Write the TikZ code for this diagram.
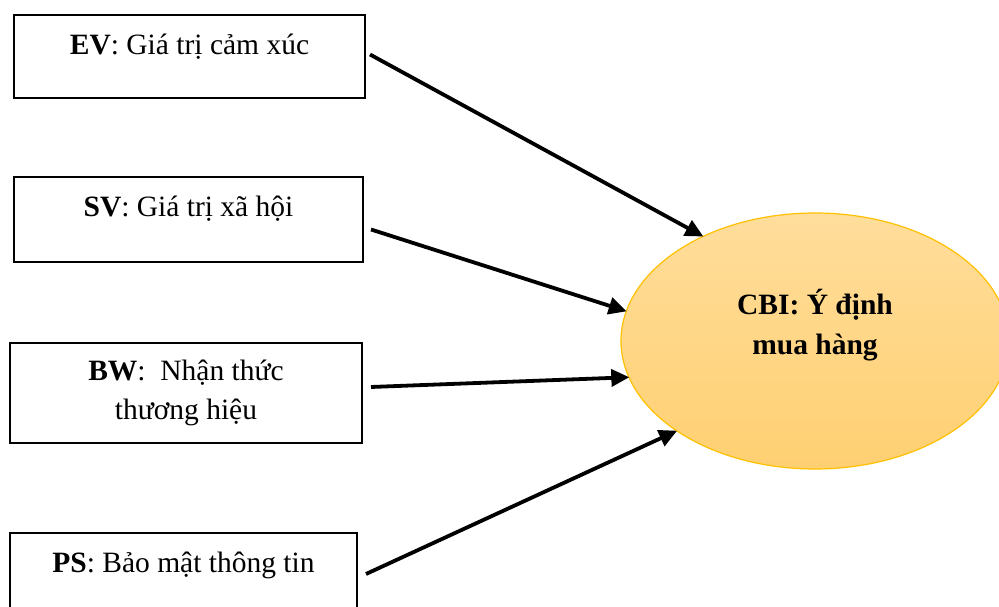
\documentclass[tikz,border=0pt]{standalone}
\usepackage{fontspec}
\setmainfont{Liberation Serif}
\usetikzlibrary{arrows.meta,shapes.geometric}

\definecolor{cbiedge}{RGB}{255,192,0}
\definecolor{cbitop}{RGB}{255,221,155}
\definecolor{cbibot}{RGB}{255,208,114}

\begin{document}
\begin{tikzpicture}[x=1pt,y=1pt,
  every node/.style={font=\fontsize{29.5}{39}\selectfont},
  varbox/.style={draw,line width=2pt,inner sep=0pt,text height=40pt},
  link/.style={line width=3.8pt,-{Triangle[length=18pt,width=17pt]},shorten >=-1pt}]
 \useasboundingbox (0,0) rectangle (999,607);
 \clip (0,0) rectangle (999,607);

 % factor boxes
 \node[varbox,minimum width=351pt,text depth=43pt,anchor=north]
   (ev) at (189.5,593) {\textbf{EV}: Giá trị cảm xúc};
 \node[varbox,minimum width=349pt,text depth=45pt,anchor=north]
   (sv) at (188.5,431) {\textbf{SV}: Giá trị xã hội};
 \node[draw,line width=2pt,minimum width=352pt,minimum height=100pt,align=center]
   (bw) at (186,214) {\textbf{BW}:\ \ Nhận thức\\thương hiệu};
 \node[varbox,minimum width=347pt,text depth=70pt,anchor=north]
   (ps) at (183.5,75) {\textbf{PS}: Bảo mật thông tin};

 % outcome
 \node[ellipse,draw=cbiedge,line width=1.2pt,top color=cbitop,bottom color=cbibot,
   minimum width=388pt,minimum height=256pt,inner sep=0pt] (cbi) at (815,266) {};
 \node[align=center,font=\fontsize{29.5}{40}\selectfont\bfseries]
   (cbitxt) at (815,282) {CBI: Ý định\\mua hàng};

 \draw[link] ([shift={(4,2)}]ev.east) -- (cbi.137);
 \draw[link] ([shift={(7,-10)}]sv.east) -- (cbi.171);
 \draw[link] ([shift={(8,6)}]bw.east) -- (cbi.191);
 \draw[link] ([shift={(8,14)}]ps.east) -- (cbi.213);
\end{tikzpicture}
\end{document}
